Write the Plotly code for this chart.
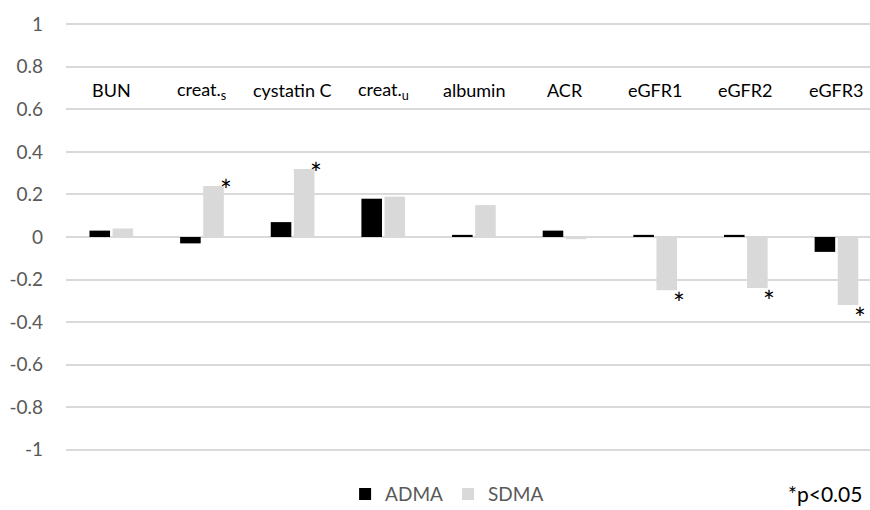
import plotly.graph_objects as go

categories = ["BUN", "creat.s", "cystatin C", "creat.u", "albumin", "ACR", "eGFR1", "eGFR2", "eGFR3"]
category_labels = ["BUN", "creat.<sub>s</sub>", "cystatin C", "creat.<sub>u</sub>", "albumin", "ACR", "eGFR1", "eGFR2", "eGFR3"]
adma = [0.03, -0.03, 0.07, 0.18, 0.01, 0.03, 0.01, 0.01, -0.07]
sdma = [0.04, 0.24, 0.32, 0.19, 0.15, -0.01, -0.25, -0.24, -0.32]
sdma_significant = [False, True, True, False, False, False, True, True, True]
y_ticks = [-1, -0.8, -0.6, -0.4, -0.2, 0, 0.2, 0.4, 0.6, 0.8, 1]
label_y = 0.69

FONT = "Lato"
fig = go.Figure()
fig.add_trace(go.Bar(x=categories, y=adma, name="ADMA", marker=dict(color="#000000", line=dict(width=0))))
fig.add_trace(go.Bar(x=categories, y=sdma, name="SDMA", marker=dict(color="#d9d9d9", line=dict(width=0))))

annotations = []
for i, lab in enumerate(category_labels):
    annotations.append(dict(x=i, y=label_y, xref="x", yref="y", text=lab, showarrow=False,
                            font=dict(family=FONT, size=18, color="#000000")))
for i, (v, s) in enumerate(zip(sdma, sdma_significant)):
    if s:
        annotations.append(dict(x=i + 0.26, y=v, xref="x", yref="y", text="*", showarrow=False,
                                xanchor="center", yanchor="middle",
                                yshift=-4 if v > 0 else -13,
                                font=dict(family=FONT, size=28, color="#000000")))
annotations.append(dict(x=0.993, y=-0.092, xref="paper", yref="paper", text="*p<0.05", showarrow=False,
                        xanchor="right", yanchor="middle", font=dict(family=FONT, size=21, color="#000000")))

fig.update_layout(
    width=870, height=510,
    margin=dict(l=66, r=0, t=20, b=56),
    paper_bgcolor="white", plot_bgcolor="white",
    barmode="group", bargap=0.49, bargroupgap=0.11,
    font=dict(family=FONT, size=18, color="#595959"),
    showlegend=True,
    legend=dict(orientation="h", x=0.474, xanchor="center", y=0.031, yanchor="middle", yref="container",
                font=dict(family=FONT, size=19, color="#595959"), itemwidth=30, traceorder="normal"),
    annotations=annotations,
)
fig.update_xaxes(range=[-0.5, 8.37], showticklabels=False, showgrid=False, zeroline=False, showline=False,
                 ticks="", automargin=False)
fig.update_yaxes(range=[-1.02, 1.02], tickvals=y_ticks, ticktext=[f"{t:g}" for t in y_ticks],
                 showgrid=True, gridcolor="#d9d9d9", gridwidth=1.5,
                 zeroline=True, zerolinecolor="#d9d9d9", zerolinewidth=1.5,
                 showline=False, ticks="", ticklabelstandoff=22, automargin=False,
                 tickfont=dict(family=FONT, size=19, color="#595959"))

fig.write_html("out.html", config={"displayModeBar": False},
               post_script="document.body.style.margin='0';document.body.style.overflow='hidden';")
